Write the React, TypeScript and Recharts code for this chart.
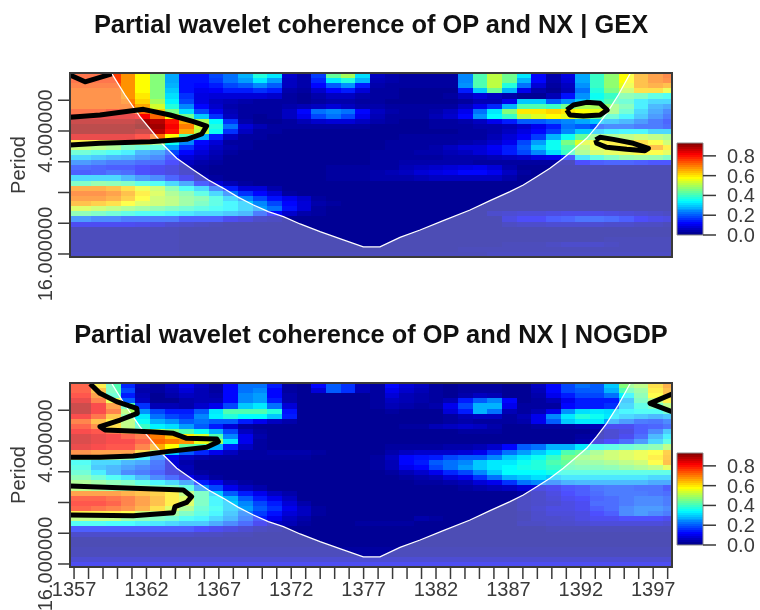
import React from 'react';
import { Area, ComposedChart, Line, ReferenceArea, Scatter, XAxis, YAxis } from 'recharts';

const years = [1357,1358,1359,1360,1361,1362,1363,1364,1365,1366,1367,1368,1369,1370,1371,1372,1373,1374,1375,1376,1377,1378,1379,1380,1381,1382,1383,1384,1385,1386,1387,1388,1389,1390,1391,1392,1393,1394,1395,1396,1397,1398];
const periodTicks = [1.5, 2, 2.5, 3, 3.5, 4];
const periodLabels: Record<number, string> = { 2: '4.000000', 4: '16.000000' };
const barTicks = [0, 0.2, 0.4, 0.6, 0.8];
const barLevels = [0,2,4,6,8,10,12,14,16,18,20,22,24,26,28,30,32,34,36,38,40,42,44,46,48,50,52,54,56,58,60,62,64,66,68,70,72,74,76,78,80,82,84,86,88,90,92];

// coherence x100, one row per scale (top to bottom), one value per column
const gexRows = [
[76,76,76,68,58,47,27,13,13,18,22,28,38,33,7,4,17,44,50,32,6,4,3,3,3,3,24,42,52,45,33,12,4,9,27,40,48,58,66,70,73],
[76,76,76,68,58,47,27,13,13,17,22,26,33,26,6,4,15,33,38,28,5,4,3,3,3,3,24,42,52,45,28,12,4,8,27,40,48,58,66,70,72],
[74,74,74,68,58,47,28,13,12,14,18,20,24,20,6,4,12,20,25,14,4,3,3,3,3,3,25,42,52,38,22,8,3,6,25,40,48,56,66,68,66],
[72,72,72,68,58,47,30,13,10,11,14,14,16,14,4,3,7,12,14,8,3,3,2,2,2,2,14,30,45,28,10,4,2,5,22,38,46,52,62,62,56],
[72,72,72,68,60,47,32,16,9,8,8,8,8,7,3,2,4,6,6,4,3,3,2,2,2,3,6,8,6,4,2,2,5,13,25,36,40,44,42,38,36],
[72,72,72,70,62,50,34,18,9,6,5,4,3,3,3,2,3,4,4,3,3,2,2,2,2,2,3,5,5,10,30,30,20,25,30,38,42,40,33,30,30],
[72,72,72,72,66,54,38,24,12,7,4,3,3,3,4,5,6,8,6,4,4,3,3,3,3,3,6,10,15,28,42,42,40,45,50,50,48,43,33,26,24],
[76,76,78,78,72,62,46,32,18,10,5,3,3,3,6,12,22,24,22,12,6,4,3,3,4,6,10,22,33,47,60,60,62,60,58,56,48,40,30,24,20],
[84,84,84,84,82,72,58,45,30,16,6,3,2,3,6,10,18,22,18,10,5,3,3,3,5,7,12,25,35,40,52,55,58,56,50,44,40,34,28,22,18],
[88,88,88,88,90,88,80,66,50,35,16,4,2,2,3,5,7,8,8,6,4,3,2,2,3,3,4,6,10,14,20,20,22,24,27,30,28,26,22,18,15],
[90,90,90,90,92,90,82,70,54,38,22,8,5,3,3,3,3,3,3,3,2,2,2,2,3,3,3,4,4,5,7,10,14,22,20,18,20,20,18,18,16],
[90,90,90,90,88,88,80,66,52,36,16,6,3,3,2,2,2,2,2,2,2,2,2,2,2,2,3,3,4,6,9,12,17,24,30,30,33,34,34,30,30],
[84,84,84,84,80,72,58,42,28,14,6,3,3,2,2,2,2,2,2,2,2,2,3,3,3,3,3,3,5,8,11,17,28,36,44,47,48,50,52,50,48],
[60,60,60,60,55,48,36,24,12,8,3,3,2,2,2,2,2,2,2,2,2,3,3,3,3,3,4,5,7,10,18,26,36,46,55,58,60,60,62,58,52],
[52,50,48,42,40,38,26,16,10,6,4,3,2,2,2,2,2,2,2,2,2,3,3,3,4,6,8,8,11,14,20,30,36,42,50,56,58,60,62,66,60],
[40,38,36,33,26,24,18,12,8,5,3,2,2,2,2,2,2,2,2,2,3,3,3,4,4,5,6,8,10,14,18,24,32,40,48,53,55,56,58,58,55],
[30,28,26,25,22,20,14,8,6,4,2,2,2,2,2,2,2,2,2,2,3,3,3,3,3,4,4,4,5,6,7,9,10,14,32,38,42,45,46,45,42],
[22,20,18,18,16,16,12,6,4,3,2,2,2,2,2,2,2,2,2,2,3,3,4,4,4,4,4,3,3,3,3,3,3,3,12,14,15,15,14,13,13],
[16,15,14,14,12,10,8,4,3,2,2,2,2,2,2,2,2,3,3,3,3,3,5,6,7,8,9,10,8,4,2,2,2,2,2,2,2,2,2,2,2],
[14,15,17,16,12,10,8,5,3,2,2,2,2,2,2,2,2,3,3,3,4,5,6,8,9,10,12,12,10,6,3,2,2,2,2,2,2,2,2,2,2],
[30,30,30,26,22,20,15,10,5,3,2,2,2,2,2,2,2,3,3,3,4,4,4,5,6,6,6,6,6,4,2,2,2,2,2,2,2,2,2,2,2],
[42,45,44,42,38,36,30,24,14,8,5,3,2,2,2,2,2,2,2,2,2,2,2,2,2,2,2,2,2,2,2,2,2,2,2,2,2,2,2,2,2],
[68,68,66,62,56,52,44,36,30,20,14,8,8,4,2,2,2,2,2,2,2,2,2,2,2,2,2,2,2,2,2,2,2,2,2,2,2,2,2,2,2],
[72,72,70,66,60,54,48,44,38,30,22,16,12,8,3,2,2,2,2,2,2,2,2,2,2,2,2,2,2,2,2,2,2,2,2,2,2,2,2,2,2],
[70,70,68,64,58,52,50,46,44,38,30,24,18,13,10,7,3,2,2,2,2,2,2,2,2,2,2,2,2,2,2,2,2,2,2,2,2,2,2,2,2],
[66,64,62,58,54,52,50,46,42,38,34,30,24,18,12,8,4,3,2,2,2,2,2,2,2,2,2,2,2,2,2,2,2,2,2,2,2,2,2,2,2],
[54,52,50,48,46,44,42,40,38,36,34,30,26,22,13,8,3,2,2,2,2,2,2,2,2,2,2,2,2,2,2,2,2,2,2,2,2,2,2,2,2],
[44,42,40,38,36,36,34,32,30,30,28,26,18,12,7,4,3,2,2,2,2,2,2,2,2,2,2,2,5,6,7,7,8,9,9,9,8,7,6,5,4],
[22,20,20,18,18,18,18,14,14,14,10,8,5,4,2,2,2,2,2,2,2,2,2,2,2,2,2,2,2,8,11,11,14,15,17,17,16,14,11,9,8],
[10,10,10,10,9,8,6,5,4,3,2,2,2,2,2,2,2,2,2,2,2,2,2,2,2,2,2,2,2,4,5,5,6,6,6,6,5,5,4,4,3],
[3,3,3,3,3,3,3,2,2,2,2,2,2,2,2,2,2,2,2,2,2,2,2,2,2,2,2,2,2,2,2,2,2,2,2,2,2,2,2,2,2],
[3,3,3,3,3,3,3,2,2,2,2,2,2,2,2,2,2,2,2,2,2,2,2,2,2,2,2,2,2,2,2,2,2,2,2,2,2,2,2,2,2],
[3,3,3,3,3,3,3,2,2,2,2,2,2,2,2,2,2,2,2,2,2,2,2,2,2,2,2,2,2,2,2,2,2,2,2,2,3,3,3,3,3],
[3,3,3,3,3,3,3,2,2,2,2,2,2,2,2,2,2,2,2,2,2,2,2,2,2,2,2,2,2,3,3,3,4,5,5,5,4,3,3,3,3],
[3,3,3,3,3,3,3,2,2,2,2,2,2,2,2,2,2,2,2,2,2,2,2,2,2,2,3,3,3,3,3,3,3,3,3,3,3,3,3,3,3],
[4,4,4,4,4,4,4,3,3,3,3,3,3,3,3,3,3,3,3,3,3,3,3,3,3,3,3,3,4,4,4,4,4,4,4,4,4,4,4,4,4],
];

const nogdpRows = [
[78,60,42,15,5,3,6,10,6,3,12,22,22,14,3,2,12,20,16,5,3,12,8,6,3,2,3,3,3,2,2,6,12,18,22,20,30,47,50,62,68],
[78,66,42,18,4,3,5,8,5,3,12,22,24,12,3,2,8,20,16,5,3,10,7,5,3,2,3,3,3,2,2,5,12,18,20,20,28,42,46,60,66],
[80,70,40,14,5,2,4,6,5,4,12,24,26,12,4,2,2,2,2,2,3,8,5,4,3,2,4,6,5,2,2,4,10,14,18,18,22,34,44,58,66],
[84,74,56,20,6,2,2,4,5,5,12,24,26,14,4,2,2,2,2,2,3,6,5,4,3,5,14,20,24,12,2,3,5,10,14,14,14,28,42,50,60],
[88,82,70,42,16,5,5,4,7,10,18,30,33,22,8,2,2,2,2,2,3,5,4,3,4,10,18,28,28,10,3,3,3,12,14,14,16,30,38,42,50],
[88,82,74,50,25,18,14,14,20,33,42,42,42,38,13,2,2,2,2,2,2,3,2,2,2,8,14,28,22,5,3,5,10,25,32,33,32,34,36,36,40],
[82,76,65,45,33,22,18,16,24,34,38,35,35,30,14,2,2,2,2,2,2,2,2,2,2,3,5,6,6,3,5,10,24,33,38,36,33,30,28,26,28],
[74,66,60,50,36,28,25,20,22,20,20,14,10,6,4,2,2,2,2,2,2,2,2,2,2,3,4,3,3,3,4,10,20,30,33,33,26,22,18,17,20],
[78,72,62,50,40,34,32,26,20,14,8,3,2,2,2,2,2,2,2,2,2,2,3,3,5,6,7,6,4,2,2,3,3,3,4,5,10,10,14,15,17],
[82,80,76,70,60,50,46,42,36,28,18,6,3,2,2,2,2,2,2,2,2,2,2,2,2,2,3,3,3,2,2,2,2,2,2,3,6,8,14,20,28],
[86,84,82,78,75,70,64,60,54,42,24,10,4,2,2,2,2,2,2,2,2,2,2,2,2,2,2,2,2,2,2,2,2,2,3,4,6,10,16,26,33],
[86,84,82,82,78,72,70,68,56,50,33,10,3,2,2,2,2,2,2,2,2,2,2,2,2,2,2,2,2,2,2,2,2,2,4,8,12,16,22,30,38],
[84,82,80,80,74,66,58,44,42,28,14,6,3,2,2,2,2,2,2,2,2,3,3,3,3,4,4,5,7,12,20,22,28,28,33,36,38,40,42,44,50],
[72,70,70,70,62,50,30,20,15,10,6,3,3,4,4,4,3,2,2,2,2,4,6,7,7,7,8,10,16,22,26,30,34,42,44,48,52,54,56,58,64],
[50,48,46,44,34,22,10,6,4,3,3,3,3,3,3,3,2,2,2,2,3,6,12,13,14,18,20,20,24,30,33,36,40,46,48,50,52,54,56,60,65],
[36,30,30,26,24,18,8,4,2,2,2,2,2,2,2,2,2,2,2,2,3,5,12,14,20,22,24,30,33,33,36,38,42,44,46,46,48,50,52,58,66],
[38,28,26,23,20,17,8,5,2,2,2,2,2,2,2,2,2,2,2,2,3,5,10,12,18,22,26,30,33,35,37,38,40,42,43,43,44,46,48,50,55],
[40,33,26,20,18,15,8,5,3,2,2,2,2,2,2,2,2,2,2,2,2,3,5,7,10,15,18,24,30,35,35,35,37,38,38,38,38,38,38,38,38],
[44,40,36,32,26,20,16,10,6,3,2,2,2,2,2,2,2,2,2,2,2,2,3,4,5,8,10,16,22,28,30,32,30,32,32,32,32,32,32,30,30],
[48,46,44,42,38,34,30,24,14,10,5,3,2,2,2,2,2,2,2,2,2,2,2,3,3,4,5,8,10,16,22,24,22,25,26,26,26,26,26,24,24],
[50,48,46,46,44,42,42,38,24,18,10,6,4,2,2,2,2,2,2,2,2,2,2,2,2,2,3,4,5,6,8,8,10,13,14,17,18,18,17,17,14],
[70,70,70,68,66,64,60,50,42,30,20,14,10,6,4,2,2,2,2,2,2,2,2,2,2,2,2,2,2,2,3,5,8,12,14,16,18,18,18,17,16],
[78,78,76,74,70,66,60,54,42,34,28,20,14,10,6,2,2,2,2,2,2,2,2,2,2,2,2,2,2,2,4,5,7,10,12,15,16,18,20,20,18],
[80,80,78,74,70,66,60,54,42,34,30,24,18,14,8,4,2,2,2,2,2,2,2,2,2,2,2,2,2,2,4,5,6,8,10,16,16,18,20,20,18],
[78,76,74,72,68,62,54,48,40,36,30,26,20,16,10,6,3,2,2,2,2,2,2,2,2,2,2,2,2,2,4,6,8,8,10,14,16,20,22,22,20],
[60,60,60,58,52,50,46,42,38,34,28,22,17,13,8,6,3,2,2,2,2,2,2,2,2,2,2,2,2,2,3,5,7,7,8,12,14,20,22,20,18],
[50,50,50,46,44,42,40,36,34,30,26,20,14,10,6,4,2,2,2,2,2,2,2,4,3,2,2,2,2,2,3,5,5,6,8,10,10,12,12,12,10],
[36,36,35,35,33,32,30,28,28,24,20,16,10,6,5,3,2,2,2,3,3,3,3,2,2,2,2,2,2,2,4,4,5,5,6,7,7,7,7,7,6],
[14,14,14,14,14,14,14,14,12,10,8,6,4,3,2,2,2,2,2,2,2,2,2,2,2,2,2,2,2,2,2,2,3,3,3,3,3,3,3,3,3],
[5,5,5,5,5,5,5,5,4,4,3,3,2,2,2,2,2,2,2,2,2,2,2,2,2,2,2,2,2,2,2,2,2,2,2,2,2,2,2,2,2],
[2,2,2,2,2,2,2,2,2,2,2,2,2,2,2,2,2,2,2,2,2,2,2,2,2,2,2,2,2,2,2,2,2,2,2,2,2,2,2,2,2],
[2,2,2,2,2,2,2,2,2,2,2,2,2,2,2,2,2,2,2,2,2,2,2,2,2,2,2,2,2,2,2,2,2,2,2,2,2,2,2,2,2],
[3,3,3,3,3,3,3,3,3,3,3,3,3,3,3,3,3,3,3,3,3,3,3,3,3,3,3,3,3,3,3,3,3,3,3,3,3,3,3,3,3],
[3,3,3,3,3,3,3,3,3,3,3,3,3,3,3,3,3,3,3,3,3,3,3,3,3,3,3,3,3,3,3,3,3,3,3,3,3,3,3,3,3],
[6,6,6,6,6,6,6,6,6,6,6,6,6,6,6,6,6,6,6,6,6,6,6,6,6,6,6,6,6,6,6,6,6,6,6,6,6,6,6,6,6],
[10,10,10,10,10,10,10,10,10,10,10,10,10,10,10,10,10,10,10,10,10,10,10,10,10,10,10,10,10,10,10,10,10,10,10,10,10,10,10,10,10],
];

// cone of influence
const coiYears = [1359.62,1360.52,1361.55,1363.17,1364.09,1365.25,1366.28,1367.32,1368.35,1369.39,1370.42,1371.46,1372.61,1373.99,1375.6,1376.98,1378.13,1379.51,1380.9,1382.5,1384.35,1385.73,1387.11,1388.03,1388.95,1389.87,1390.79,1391.6,1392.4,1393.09,1393.79,1394.59,1395.4];
const coiPeriods = [1.07,1.415,1.767,2.228,2.444,2.634,2.797,2.932,3.079,3.203,3.312,3.393,3.512,3.637,3.772,3.885,3.885,3.729,3.61,3.458,3.285,3.133,2.986,2.878,2.743,2.607,2.444,2.282,2.119,1.93,1.713,1.415,1.07];

// significance contours, [year, log2 period]
const gexContours = [
  [[1356.72,1.09],[1357.76,1.2],[1358.57,1.144],[1359.6,1.07]],
  [[1356.72,1.778],[1358.79,1.74],[1361.79,1.648],[1363.63,1.74],[1365.25,1.848],[1366.16,1.919],[1365.82,2.049],[1364.78,2.136],[1362.25,2.173],[1358.79,2.2],[1356.72,2.228]],
  [[1391.03,1.659],[1391.49,1.577],[1392.4,1.534],[1393.33,1.55],[1393.83,1.659],[1393.33,1.74],[1392.18,1.756],[1391.25,1.74],[1391.03,1.659]],
  [[1393.03,2.146],[1393.33,2.103],[1394.25,2.136],[1395.63,2.2],[1396.67,2.282],[1396.43,2.32],[1395.17,2.298],[1393.79,2.266],[1393.1,2.2],[1393.03,2.146]],
];
const nogdpContours = [
  [[1358.11,1.07],[1358.79,1.225],[1359.94,1.36],[1361.33,1.469],[1361.37,1.55],[1360.18,1.659],[1358.79,1.767],[1359.14,1.821],[1362.25,1.848],[1363.86,1.875],[1364.78,1.957],[1366.86,1.967],[1366.97,2.011],[1366.16,2.103],[1363.4,2.173],[1361.09,2.244],[1358.79,2.266],[1356.72,2.266]],
  [[1356.72,2.732],[1361.09,2.77],[1364.55,2.797],[1365.12,2.905],[1364.78,2.997],[1363.97,3.068],[1363.86,3.165],[1361.09,3.214],[1356.72,3.203]],
  [[1398.3,1.236],[1396.78,1.388],[1398.3,1.523]],
];

const X_MIN = 1356.72;
const X_MAX = 1398.3;
const Y_MIN = 1.057;
const Y_MAX = 4.049;
const COL_STEP = 1.0124;
const COL_START = 1357.19;
const ROW_STEP = 1 / 12;
const CELL_W = 14.66;
const CELL_H = 5.125;
const FONT = '"Liberation Sans", Arial, sans-serif';
const INK = '#3a3a3a';

const jetStops = [[0,0,127],[0,0,255],[0,127,255],[0,255,255],[127,255,127],[255,255,0],[255,127,0],[255,0,0],[127,0,0]];

function jet(v: number) {
  const t = Math.min(Math.max(v / 93, 0), 1) * (jetStops.length - 1);
  const i = Math.min(Math.floor(t), jetStops.length - 2);
  const f = t - i;
  const c = jetStops[i].map((a, k) => Math.round(a + (jetStops[i + 1][k] - a) * f));
  return `rgb(${c[0]},${c[1]},${c[2]})`;
}

function heatPoints(rows: number[][]) {
  const pts: { x: number; y: number; v: number }[] = [];
  rows.forEach((row, r) => {
    const y = Y_MIN + (r + 0.5) * ROW_STEP;
    pts.push({ x: COL_START - COL_STEP / 2, y, v: row[0] });
    row.forEach((v, c) => pts.push({ x: COL_START + (c + 0.5) * COL_STEP, y, v }));
  });
  return pts;
}

// everything outside the cone gets the white veil
const veilData = [
  { x: X_MIN, band: [Y_MIN, Y_MAX] },
  ...coiYears.map((x, i) => ({ x, band: [Math.max(coiPeriods[i], Y_MIN), Y_MAX] })),
  { x: X_MAX, band: [Y_MIN, Y_MAX] },
];
const coiData = coiYears.map((x, i) => ({ x, y: coiPeriods[i] }));

// snap cell edges to whole pixels so neighbours leave no seams
const snappedRect = (cx: number, cy: number, w: number, h: number, fill: string) => {
  const x = Math.round(cx - w / 2);
  const y = Math.round(cy - h / 2);
  return <rect x={x} y={y} width={Math.round(cx + w / 2) - x} height={Math.round(cy + h / 2) - y} fill={fill} />;
};
const HeatCell = (p: any) => snappedRect(p.cx, p.cy, CELL_W, CELL_H, jet(p.payload.v));
const BarCell = (p: any) => snappedRect(p.cx, p.cy, 26, 2.4, jet(p.payload.y * 100));
const NoDot = () => <g />;

const PeriodTick = ({ x, y, payload }: any) => {
  const label = periodLabels[payload.value];
  if (!label) return <g />;
  return (
    <text x={x - 4} y={y} transform={`rotate(-90 ${x - 4} ${y})`} textAnchor="middle" fontFamily={FONT} fontSize={20} fill={INK}>
      {label}
    </text>
  );
};

const YearTick = ({ x, y, payload }: any) => {
  if ((payload.value - 1357) % 5 !== 0) return <g />;
  return (
    <text x={x} y={y + 15} textAnchor="middle" fontFamily={FONT} fontSize={20} fill={INK}>
      {payload.value}
    </text>
  );
};

const BarTick = ({ x, y, payload }: any) => (
  <text x={x + 9} y={y + 7} fontFamily={FONT} fontSize={20} fill={INK}>
    {payload.value.toFixed(1)}
  </text>
);

function Panel({ rows, contours, showYears }: { rows: number[][]; contours: number[][][]; showYears: boolean }) {
  const top = showYears ? 78 : 73;
  return (
    <ComposedChart width={760} height={305} margin={{ top, right: 88, bottom: showYears ? 3 : 48, left: 0 }}>
      <XAxis
        dataKey="x"
        type="number"
        domain={[X_MIN, X_MAX]}
        allowDataOverflow
        ticks={years}
        interval={0}
        height={showYears ? 40 : 0}
        hide={!showYears}
        axisLine={false}
        tick={<YearTick />}
        tickSize={12}
        tickLine={{ stroke: INK, strokeWidth: 1.5 }}
      />
      <YAxis
        dataKey="y"
        type="number"
        reversed
        domain={[Y_MIN, Y_MAX]}
        allowDataOverflow
        ticks={periodTicks}
        interval={0}
        width={70}
        axisLine={false}
        tick={<PeriodTick />}
        tickSize={12}
        tickLine={{ stroke: INK, strokeWidth: 1.5 }}
        label={{ value: 'Period', angle: -90, position: 'insideLeft', offset: 18, style: { fontFamily: FONT, fontSize: 20, fill: INK, textAnchor: 'middle' } }}
      />
      <Scatter data={heatPoints(rows)} shape={HeatCell} isAnimationActive={false} zIndex={10} />
      <Area data={veilData} dataKey="band" type="linear" stroke="none" fill="#ffffff" fillOpacity={0.3} dot={false} isAnimationActive={false} zIndex={20} />
      <Line data={coiData} dataKey="y" type="linear" stroke="#ffffff" strokeWidth={1.3} dot={false} isAnimationActive={false} zIndex={30} />
      {contours.map((c, i) => (
        <Scatter
          key={i}
          data={c.map(([x, y]) => ({ x, y }))}
          line={{ stroke: '#000000', strokeWidth: 5, strokeLinejoin: 'round' }}
          shape={NoDot}
          isAnimationActive={false}
          zIndex={40}
        />
      ))}
      <ReferenceArea x1={X_MIN} x2={X_MAX} y1={Y_MIN} y2={Y_MAX} fill="none" stroke={INK} strokeWidth={2} zIndex={50} />
    </ComposedChart>
  );
}

function ColorBar({ top }: { top: number }) {
  return (
    <div style={{ position: 'absolute', left: 0, top }}>
      <ComposedChart width={760} height={120} margin={{ top: 3, right: 0, bottom: 25, left: 677 }}>
        <XAxis dataKey="x" type="number" domain={[0, 1]} hide height={0} />
        <YAxis
          dataKey="y"
          type="number"
          orientation="right"
          domain={[0, 0.93]}
          allowDataOverflow
          ticks={barTicks}
          interval={0}
          width={57}
          axisLine={false}
          tick={<BarTick />}
          tickSize={13}
          tickLine={{ stroke: INK, strokeWidth: 1.5 }}
        />
        <Scatter data={barLevels.map((l) => ({ x: 0.5, y: l / 100 }))} shape={BarCell} isAnimationActive={false} zIndex={10} />
        <ReferenceArea x1={0} x2={1} y1={0} y2={0.93} fill="none" stroke="#8a8a8a" strokeWidth={1} zIndex={20} />
      </ComposedChart>
    </div>
  );
}

const Title = ({ top, children }: { top: number; children: string }) => (
  <div style={{ position: 'absolute', left: 0, width: 742, top, textAlign: 'center', fontFamily: FONT, fontWeight: 700, fontSize: 25.4, lineHeight: '26px', color: '#111', whiteSpace: 'nowrap' }}>
    {children}
  </div>
);

export default function App() {
  return (
    <div style={{ position: 'absolute', left: 0, top: 0, width: 760, height: 610, overflow: 'hidden', background: '#fff', filter: 'blur(0.6px)' }}>
      <Title top={11}>Partial wavelet coherence of OP and NX | GEX</Title>
      <Title top={321}>Partial wavelet coherence of OP and NX | NOGDP</Title>
      <div style={{ position: 'absolute', left: 0, top: 0 }}>
        <Panel rows={gexRows} contours={gexContours} showYears={false} />
      </div>
      <div style={{ position: 'absolute', left: 0, top: 305 }}>
        <Panel rows={nogdpRows} contours={nogdpContours} showYears />
      </div>
      <ColorBar top={140} />
      <ColorBar top={450} />
    </div>
  );
}
